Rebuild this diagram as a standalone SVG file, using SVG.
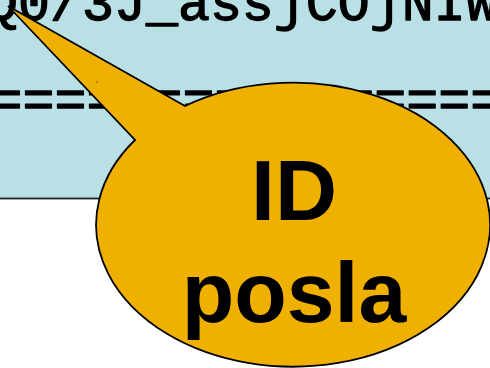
<svg xmlns="http://www.w3.org/2000/svg" width="490" height="368" viewBox="0 0 490 368">
  <style>
    .mono { font-family: "Liberation Mono", "Courier New", monospace; font-size: 53.3px; fill: #000; stroke: #000; stroke-width: 1.3px; stroke-linejoin: round; }
    .label { font-family: "Liberation Sans", Arial, sans-serif; font-weight: bold; font-size: 86px; fill: #000; text-anchor: middle; }
  </style>
  <rect x="0" y="0" width="490" height="368" fill="#ffffff"/>
  <g id="panel">
    <rect x="-10" y="-10" width="510" height="208.5" fill="#b9e0e4" stroke="#222" stroke-width="1.8"/>
    <text class="mono" x="-14" y="20" xml:space="preserve">Q0/3J_assjCOjNIW</text>
    <text class="mono" x="-9.5" y="116.5" xml:space="preserve">================</text>
  </g>
  <g id="callout">
    <path d="M 185 106 L 8 6 L 135 140 A 197 142 0 1 0 185 106 Z" fill="#f0b000" stroke="#000" stroke-width="1.8" stroke-linejoin="miter"/>
    <rect x="96.5" y="81.5" width="1" height="1" fill="#000"/>
    <text class="label" x="294" y="220">ID</text>
    <text class="label" x="294" y="322">posla</text>
  </g>
</svg>
